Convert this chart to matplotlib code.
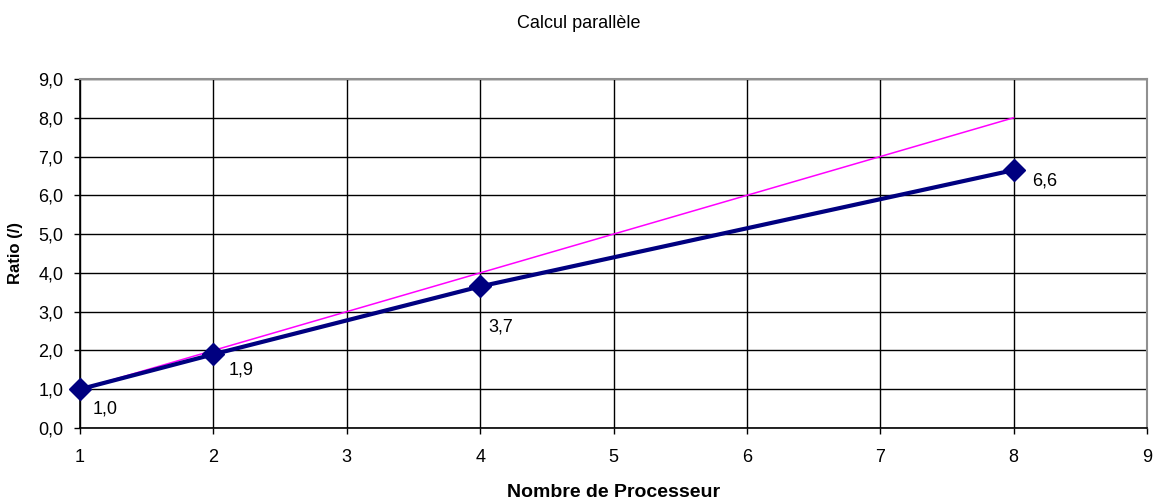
import matplotlib.pyplot as plt
from matplotlib.ticker import FuncFormatter

plt.rcParams['font.family'] = ['Liberation Sans', 'DejaVu Sans']

# donnees
processeurs = [1, 2, 4, 8]
ratio = [1.0, 1.9, 3.65, 6.65]
ratio_ideal = [1, 2, 4, 8]
etiquettes = ['1,0', '1,9', '3,7', '6,6']

fig = plt.figure(figsize=(11.58, 5), dpi=100)
ax = fig.add_axes([0.0691, 0.144, 0.9214, 0.698])

ax.plot(processeurs, ratio_ideal, color='#ff00ff', linewidth=1.1, zorder=3)
ax.plot(processeurs, ratio, color='#000080', linewidth=3, marker='D',
        markersize=11.5, zorder=4, clip_on=False)

# position des etiquettes (decalage en points)
decalages = [(9, -14.5), (11, -11), (6, -29.5), (13.5, -8)]
for x, y, t, d in zip(processeurs, ratio, etiquettes, decalages):
    ax.annotate(t, (x, y), xytext=d, textcoords='offset points',
                ha='left', va='center', fontsize=13)

ax.set_xlim(1, 9)
ax.set_ylim(0, 9)
ax.set_xticks(range(1, 10))
ax.set_yticks(range(0, 10))
ax.yaxis.set_major_formatter(FuncFormatter(lambda v, p: ('%.1f' % v).replace('.', ',')))
ax.tick_params(labelsize=13, direction='out', length=4, width=1, color='black')
ax.tick_params(axis='x', pad=11)
ax.tick_params(axis='y', pad=8)

ax.grid(True, color='black', linewidth=1)
ax.set_axisbelow(True)
for s in ['top', 'right']:
    ax.spines[s].set_color('#909090')
    ax.spines[s].set_linewidth(1.5)
for s in ['left', 'bottom']:
    ax.spines[s].set_color('black')
    ax.spines[s].set_linewidth(1.2)

ax.set_xlabel('Nombre de Processeur', fontsize=14, fontweight='bold', labelpad=13)
ax.set_ylabel('Ratio (/)', fontsize=12, fontweight='bold', labelpad=11)
fig.suptitle('Calcul parallèle', fontsize=13, y=0.97)

plt.savefig('out.png', dpi=100)
